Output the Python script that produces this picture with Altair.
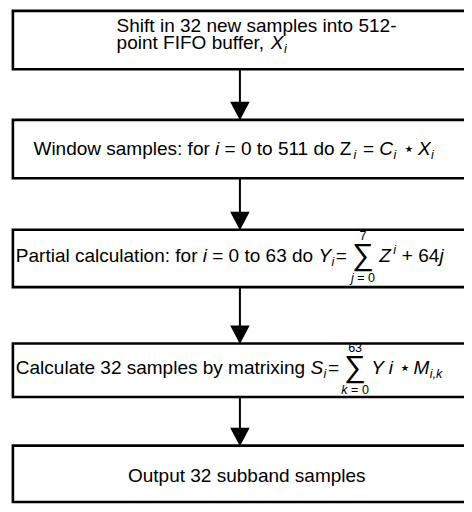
import altair as alt
import pandas as pd

# ---------------- content ----------------
# each line: list of (text, style); styles: n normal, i italic, sub, sup, sum
box1_line1 = [("Shift in 32 new samples into 512-", "n")]
box1_line2 = [("point FIFO buffer, ", "n"), ("X", "i"), ("i", "sub")]
box2_line = [("Window samples: for ", "n"), ("i", "i"), (" = 0 to 511 do Z", "n"), ("i", "sub"),
             (" = ", "n"), ("C", "i"), ("i", "sub"), (" \u22c6 ", "n"), ("X", "i"), ("i", "sub")]
box3_line = [("Partial calculation: for ", "n"), ("i", "i"), (" = 0 to 63 do ", "n"), ("Y", "i"),
             ("i", "sub"), ("= ", "n"), ("7|j", "sum"), (" ", "n"), ("Z", "i"), ("i", "sup"),
             (" + 64", "n"), ("j", "i")]
box4_line = [("Calculate 32 samples by matrixing ", "n"), ("S", "i"), ("i", "sub"), ("= ", "n"),
             ("63|k", "sum"), (" ", "n"), ("Y i", "i"), (" \u22c6 ", "n"), ("M", "i"), ("i,k", "sub")]
box5_line = [("Output 32 subband samples", "n")]

# ---------------- layout (reference pixel space) ----------------
box_top = [5, 117, 230, 347, 452]
box_bottom = [65, 177, 289, 402, 510]
box_left = 11
arrow_x = 243
lines = [  # (segments, start x or None for centered, baseline)
    (box1_line1, 117, 27),
    (box1_line2, 117, 44),
    (box2_line, 32, 153),
    (box3_line, 14, 263),
    (box4_line, 14, 378),
    (box5_line, None, 489),
]
FS = 19
SUBF = 0.66
XD = [6, 472]
YD = [2, 512]
WIDTH, HEIGHT = 456, 496
sx = WIDTH / (XD[1] - XD[0])

W = {' ': 278, ',': 278, '-': 333, '.': 278, ':': 278, '=': 584, '+': 584, '|': 260,
     '\u22c6': 500, '\u2211': 713}
for c in '0123456789':
    W[c] = 556
W.update(dict(a=556, b=556, c=500, d=556, e=556, f=278, g=556, h=556, i=222, j=222, k=500,
              l=222, m=833, n=556, o=556, p=556, q=556, r=333, s=500, t=278, u=556, v=500,
              w=722, x=500, y=500, z=500))
W.update(dict(A=667, B=667, C=722, D=722, E=667, F=611, G=778, H=722, I=278, J=500, K=667,
              L=556, M=833, N=722, O=778, P=667, Q=778, R=722, S=667, T=611, U=722, V=667,
              W=944, X=667, Y=667, Z=611))


def tw(s, fs):
    return sum(W.get(ch, 556) for ch in s) * fs / 1000.0


rows = []


def add(x, y, text, italic, size, align="left"):
    lead = len(text) - len(text.lstrip(" "))
    x = x + tw(" " * lead, size) / sx
    rows.append(dict(x=x, y=y, text=text.strip(" "), italic=italic, size=size, al=align))


for segs, start, base in lines:
    if start is None:
        total = sum(tw(t, FS) for t, _ in segs)
        start = 250 - total / sx / 2
    cur = 0.0
    for text, st in segs:
        x = start + cur / sx
        if st == "n":
            add(x, base, text, False, FS)
            cur += tw(text, FS)
        elif st == "i":
            add(x, base, text, True, FS)
            cur += tw(text, FS)
        elif st == "sub":
            fs = FS * SUBF
            add(x + 0.5, base + 4, text, True, fs)
            cur += tw(text, fs) + 2
        elif st == "sup":
            fs = FS * SUBF
            add(x + 2.5, base - 8, text, True, fs)
            cur += tw(text, fs) + 3
        elif st == "sum":
            up, var = text.split("|")
            big = FS * 1.6
            wsum = tw("\u2211", big)
            cx = x + wsum / sx / 2
            add(x, base + 3, "\u2211", False, big)
            fs = FS * SUBF
            lw = tw(var + " = 0", fs)
            add(cx, base - 22, up, False, fs, "center")
            lx = cx - lw / sx / 2
            add(lx, base + 21, var, True, fs)
            add(lx + tw(var, fs) / sx, base + 21, " = 0", False, fs)
            cur += wsum

df_text = pd.DataFrame(rows)
df_boxes = pd.DataFrame(dict(x=[box_left] * 5, x2=[XD[1] + 20] * 5, y=box_top, y2=box_bottom))
df_arrows = pd.DataFrame(dict(x=[arrow_x] * 4, y=box_bottom[:4], y2=[t - 16 for t in box_top[1:]]))
df_heads = pd.DataFrame(dict(x=[arrow_x] * 4, y=[t - 9 for t in box_top[1:]]))

xs = alt.Scale(domain=XD, nice=False, zero=False)
ys = alt.Scale(domain=YD, nice=False, zero=False, reverse=True)
X = lambda f: alt.X(f, scale=xs, axis=None)
Y = lambda f: alt.Y(f, scale=ys, axis=None)

boxes = alt.Chart(df_boxes).mark_rect(fill="white", stroke="black", strokeWidth=2.6, clip=True).encode(
    x=X("x:Q"), x2="x2", y=Y("y:Q"), y2="y2")
shafts = alt.Chart(df_arrows).mark_rule(color="black", strokeWidth=2).encode(
    x=X("x:Q"), y=Y("y:Q"), y2="y2")
heads = alt.Chart(df_heads).mark_point(
    shape="M -1 -0.95 L 1 -0.95 L 0 0.95 Z", filled=True, color="black", opacity=1, size=380
).encode(x=X("x:Q"), y=Y("y:Q"))


def text_layer(italic, align):
    d = df_text[(df_text["italic"] == italic) & (df_text["al"] == align)]
    return alt.Chart(d).mark_text(
        align=align, baseline="alphabetic", font="Liberation Sans", color="black",
        fontStyle="italic" if italic else "normal"
    ).encode(x=X("x:Q"), y=Y("y:Q"), text="text:N", size=alt.Size("size:Q", scale=None))


layers = [boxes, shafts, heads]
for it in (False, True):
    for al in ("left", "center"):
        if len(df_text[(df_text["italic"] == it) & (df_text["al"] == al)]):
            layers.append(text_layer(it, al))

chart = alt.layer(*layers).properties(width=WIDTH, height=HEIGHT, padding=0).configure_view(stroke=None)
chart.save("out.html", embed_options={"renderer": "svg", "actions": False})
